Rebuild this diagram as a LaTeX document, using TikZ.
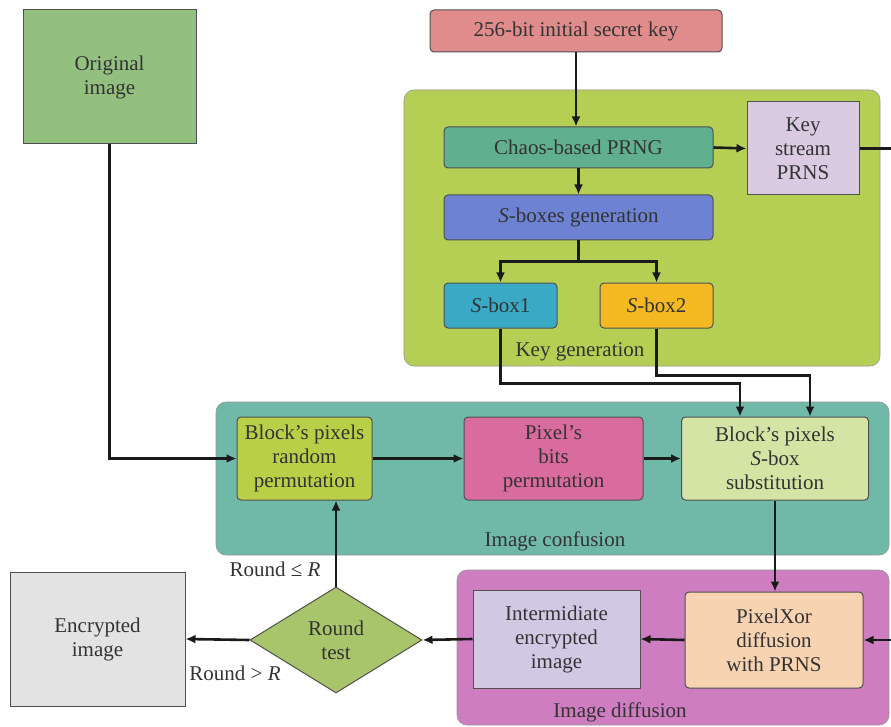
\documentclass[tikz,border=0pt]{standalone}
\usepackage{fontspec}
\setmainfont{Liberation Serif}
\usetikzlibrary{arrows.meta,shapes.geometric}

\definecolor{boxline}{HTML}{505050}
\definecolor{textgray}{HTML}{333333}
\definecolor{arrowblack}{HTML}{1A1A1A}
\definecolor{origfill}{HTML}{93C07F}
\definecolor{keyfill}{HTML}{E08C8C}
\definecolor{keygenfill}{HTML}{B5CF55}
\definecolor{prngfill}{HTML}{60B08F}
\definecolor{streamfill}{HTML}{DACBE3}
\definecolor{sgenfill}{HTML}{6D82D2}
\definecolor{sboxonefill}{HTML}{3AA9C6}
\definecolor{sboxtwofill}{HTML}{F4B823}
\definecolor{confusionfill}{HTML}{70B9A9}
\definecolor{permfill}{HTML}{BACF48}
\definecolor{bitsfill}{HTML}{D96B9F}
\definecolor{substfill}{HTML}{D3E4A4}
\definecolor{diffusionfill}{HTML}{CD7DC0}
\definecolor{interfill}{HTML}{D1C9E4}
\definecolor{xorfill}{HTML}{F7D3B2}
\definecolor{testfill}{HTML}{A9C56B}
\definecolor{encfill}{HTML}{E3E3E3}

\begin{document}
\begin{tikzpicture}[x=1pt,y=-1pt,
    box/.style={draw=boxline,line width=1pt,align=center,inner sep=0pt,
      text=textgray,font=\fontsize{21}{24}\selectfont},
    rbox/.style={box,rounded corners=4pt},
    group/.style={draw=boxline!60,line width=0.6pt,rounded corners=10pt,inner sep=0pt},
    caption/.style={text=textgray,font=\fontsize{21}{24}\selectfont},
    flow/.style={draw=arrowblack,line width=2.6pt,-{Latex[length=10pt,width=9pt]}},
    plain/.style={draw=arrowblack,line width=2.6pt}]
    \useasboundingbox (0,0) rectangle (891,727);
    \clip (0,0) rectangle (891,727);

    % Drawing the three groups
    \node [group,fill=keygenfill,minimum width=476pt,minimum height=276pt] (keygen) at (642,228) {};
    \node [group,fill=confusionfill,minimum width=673pt,minimum height=153pt] (confusion) at (552.5,478.5) {};
    \node [group,fill=diffusionfill,minimum width=432pt,minimum height=155pt] (diffusion) at (673,647.5) {};
    \node [caption] at (580,352) {Key generation};
    \node [caption] at (555,541) {Image confusion};
    \node [caption] at (620,712) {Image diffusion};

    % Drawing key generation boxes
    \node [box,fill=origfill,minimum width=173pt,minimum height=134pt] (orig) at (109.5,77) {Original\\image};
    \node [rbox,fill=keyfill,minimum width=292pt,minimum height=42pt] (key) at (576,31) {256-bit initial secret key};
    \node [rbox,fill=prngfill,minimum width=269pt,minimum height=41pt] (prng) at (578.5,147.5) {Chaos-based PRNG};
    \node [box,fill=streamfill,minimum width=112pt,minimum height=93pt] (stream) at (803,148.5) {Key\\stream\\PRNS};
    \node [rbox,fill=sgenfill,minimum width=269pt,minimum height=45pt] (sgen) at (578.5,217.5) {\textit{S}-boxes generation};
    \node [rbox,fill=sboxonefill,minimum width=113pt,minimum height=45pt] (sboxone) at (500.5,305.5) {\textit{S}-box1};
    \node [rbox,fill=sboxtwofill,minimum width=113pt,minimum height=45pt] (sboxtwo) at (656.5,305.5) {\textit{S}-box2};

    % Drawing confusion boxes
    \node [rbox,fill=permfill,minimum width=135pt,minimum height=83pt] (perm) at (304.5,458.5) {Block's pixels\\random\\permutation};
    \node [rbox,fill=bitsfill,minimum width=179pt,minimum height=83pt] (bits) at (553.5,458.5) {Pixel's\\bits\\permutation};
    \node [rbox,fill=substfill,minimum width=187pt,minimum height=83pt] (subst) at (775,458.5) {Block's pixels\\\textit{S}-box\\substitution};

    % Drawing diffusion boxes
    \node [rbox,fill=xorfill,minimum width=178pt,minimum height=96pt] (xor) at (774,640) {PixelXor\\diffusion\\with PRNS};
    \node [box,fill=interfill,minimum width=167pt,minimum height=98pt] (inter) at (556.5,639) {Intermidiate\\encrypted\\image};

    % Drawing round test and output
    \node [box,diamond,fill=testfill,minimum width=172pt,minimum height=106pt] (test) at (336,640) {Round\\test};
    \node [box,fill=encfill,minimum width=175pt,minimum height=134pt] (enc) at (97.5,639) {Encrypted\\image};
    \node [caption] (le) at (275,569) {Round ≤ \textit{R}};
    \node [caption] (gt) at (235,673) {Round > \textit{R}};

    % Drawing connectors
    \draw [flow] (key.south) -- (key.south |- prng.north);
    \draw [flow] (prng.south) -- (prng.south |- sgen.north);
    \draw [flow] (prng.east) -- (stream.west);
    \draw [flow] (sgen.south) -- ++(0,21) -| (sboxone.north);
    \draw [flow] (sgen.south) -- ++(0,21) -| (sboxtwo.north);
    \draw [flow] (sboxone.south) -- ++(0,55) -| ([xshift=-35pt]subst.north);
    \draw [flow] (sboxtwo.south) -- ++(0,47) -| ([xshift=35pt]subst.north);
    \draw [flow] (stream.east) -- (905,148.5) |- (xor.east);
    \draw [flow] (orig.south) |- (perm.west);
    \draw [flow] (perm.east) -- (bits.west);
    \draw [flow] (bits.east) -- (subst.west);
    \draw [flow] (subst.south) -- (subst.south |- xor.north);
    \draw [flow] (xor.west) -- (inter.east);
    \draw [flow] (inter.west) -- (test.east);
    \draw [flow] (test.north) -- (test.north |- perm.south);
    \draw [flow] (test.west) -- (enc.east);
\end{tikzpicture}
\end{document}
